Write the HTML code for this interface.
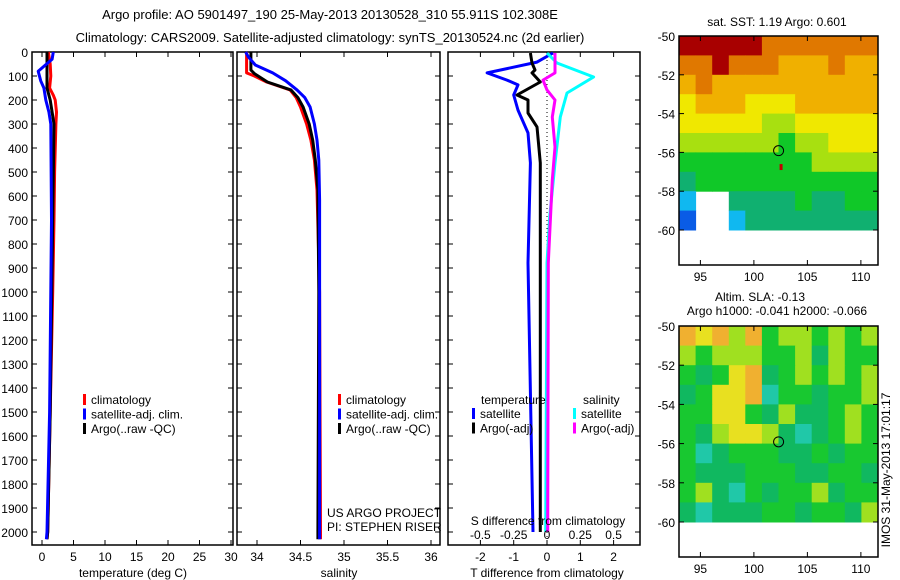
<!DOCTYPE html>
<html><head><meta charset="utf-8"><style>
body{margin:0;background:#fff;}
svg{display:block;font-family:"Liberation Sans",sans-serif;}
</style></head><body>
<svg id="c" width="900" height="580" xmlns="http://www.w3.org/2000/svg"></svg>
<script>
// ---- data ----
const depthTicks=[0,100,200,300,400,500,600,700,800,900,1000,1100,1200,1300,1400,1500,1600,1700,1800,1900,2000];
const tTicks=[0,5,10,15,20,25,30];
const sTicks=[34,34.5,35,35.5,36];
const dTTicks=[-2,-1,0,1,2];
const dSTicks=[-0.5,-0.25,0,0.25,0.5];
const dSTickLabels=["-0.5","-0.25","0","0.25","0.5"];
// panel 1 temperature
const climTD=[0,50,100,150,180,200,250,300,500,700,1000,1500,2000,2030];
const climT=[1.0,1.3,1.4,1.2,1.8,2.1,2.3,2.2,2.0,1.9,1.7,1.3,0.9,0.8];
const satTD=[0,30,80,120,150,200,250,300,700,1500,2000,2030];
const satT=[1.8,1.6,-0.6,-0.2,0.3,0.6,1.1,1.4,1.5,1.2,0.8,0.7];
const argoTD=[0,150,200,300,700,1500,2000,2030];
const argoT=[0.8,0.8,1.3,1.9,1.7,1.3,0.9,0.8];
// panel 2 salinity
const satSD=[0,20,54,87,120,158,190,229,300,367,450,617,2000,2030];
const satS=[33.87,33.9,33.98,34.18,34.33,34.46,34.55,34.61,34.66,34.69,34.71,34.72,34.72,34.72];
const climSD=[0,87,100,125,158,190,229,300,367,450,575,1000,2000,2030];
const climS=[33.88,33.88,33.97,34.11,34.38,34.45,34.5,34.57,34.62,34.66,34.69,34.72,34.73,34.73];
const argoSD=[0,75,90,125,158,190,229,300,367,450,575,1000,2000,2030];
const argoS=[33.93,33.93,33.97,34.12,34.39,34.47,34.53,34.6,34.64,34.67,34.7,34.71,34.7,34.7];
// panel 3 differences
const dTsatD=[4,42,87,117,137,179,242,337,462,879,2000];
const dTsat=[0.18,-0.3,-1.8,-1.2,-0.87,-1.0,-0.87,-0.57,-0.5,-0.57,-0.42];
const dTargoD=[4,46,75,87,125,179,200,254,312,462,879,2000];
const dTargo=[-0.5,-0.45,-0.36,-0.45,-0.2,-0.9,-0.57,-0.57,-0.3,-0.2,-0.2,-0.2];
const dSsatD=[4,46,104,171,271,462,687,879,2000];
const dSsat=[0,0.075,0.35,0.15,0.1,0.06,0.02,0,-0.01];
const dSargoD=[4,87,117,158,200,271,396,533,879,2000];
const dSargo=[0.06,0.06,-0.03,0,0.06,0.04,0.06,0.04,0.01,0.005];
// maps
const lonTicks=[95,100,105,110];
const latTicks=[-50,-52,-54,-56,-58,-60];
const sstGrid=["888887777777","778777666766","676666666666","566655566666","555554455555","444444344555","333333334444","233333333333","1xx222232233","0xx122222222"];
const slaGrid=["545352332323","323332231322","212451232323","124450221223","224421311232","213443101232","201222112122","211122211221","231021223122","101112212213"];
const floatLon=102.308, floatLat=-55.911;
// ---- helpers ----
const svg=document.getElementById('c');const NS='http://www.w3.org/2000/svg';
function el(t,a,p){const e=document.createElementNS(NS,t);for(const k in a)e.setAttribute(k,a[k]);(p||svg).appendChild(e);return e;}
function txt(x,y,s,a){const e=el('text',Object.assign({x:x,y:y,'font-size':12,fill:'#000'},a||{}));e.textContent=s;return e;}
const Y0=52,PX100=24;const yD=d=>Y0+d*PX100/100;const YB=545;
function panel(x0,x1,name){const g=el('g',{});
 el('rect',{x:x0,y:Y0,width:x1-x0,height:YB-Y0,fill:'none',stroke:'#000','stroke-width':1.5},g);
 depthTicks.forEach(d=>{el('line',{x1:x0,x2:x0+5,y1:yD(d),y2:yD(d),stroke:'#000'},g);el('line',{x1:x1-5,x2:x1,y1:yD(d),y2:yD(d),stroke:'#000'},g);});return g;}
function curve(g,D,V,fx,col,name,w,dash){const p=D.map((d,i)=>fx(V[i]).toFixed(1)+','+yD(d).toFixed(1)).join(' ');
 const l=el('polyline',{points:p,fill:'none',stroke:col,'stroke-width':w||3,'stroke-linejoin':'round'},g);
 if(dash)l.setAttribute('stroke-dasharray',dash);
 
 }
function legend(g,x,y,items){items.forEach((it,i)=>{el('rect',{x:x,y:y+i*14.5-10,width:3,height:11,fill:it[0]},g);txt(x+8,y+i*14.5,it[1],{});});}
// titles
const t1=txt(330,19,"Argo profile: AO 5901497_190 25-May-2013 20130528_310 55.911S 102.308E",{'text-anchor':'middle','font-size':13});

const t2=txt(330,42,"Climatology: CARS2009. Satellite-adjusted climatology: synTS_20130524.nc (2d earlier)",{'text-anchor':'middle','font-size':13});

depthTicks.forEach(d=>txt(28,yD(d)+5,String(d),{'text-anchor':'end'}));
// panel 1
const xT=v=>42+v*6.3;
const g1=panel(32,233,'temperature-panel');
tTicks.forEach(v=>{el('line',{x1:xT(v),x2:xT(v),y1:Y0,y2:Y0+5,stroke:'#000'},g1);el('line',{x1:xT(v),x2:xT(v),y1:YB-5,y2:YB,stroke:'#000'},g1);txt(xT(v),561,String(v),{'text-anchor':'middle'});});
txt(133,577,"temperature (deg C)",{'text-anchor':'middle'});
curve(g1,climTD,climT,xT,'#f00','climatology-temp-line');
curve(g1,argoTD,argoT,xT,'#000','argo-temp-line');
curve(g1,satTD,satT,xT,'#00f','satellite-temp-line');
legend(g1,83,404,[['#f00','climatology'],['#00f','satellite-adj. clim.'],['#000','Argo(..raw -QC)']]);
// panel 2
const xS=v=>257+(v-34)*87;
const g2=panel(237,440,'salinity-panel');
sTicks.forEach(v=>{el('line',{x1:xS(v),x2:xS(v),y1:Y0,y2:Y0+5,stroke:'#000'},g2);el('line',{x1:xS(v),x2:xS(v),y1:YB-5,y2:YB,stroke:'#000'},g2);txt(xS(v),561,String(v),{'text-anchor':'middle'});});
txt(339,577,"salinity",{'text-anchor':'middle'});
curve(g2,climSD,climS,xS,'#f00','climatology-salinity-line');
curve(g2,argoSD,argoS,xS,'#000','argo-salinity-line');
curve(g2,satSD,satS,xS,'#00f','satellite-salinity-line');
legend(g2,338,404,[['#f00','climatology'],['#00f','satellite-adj. clim.'],['#000','Argo(..raw -QC)']]);
txt(327,517,"US ARGO PROJECT",{});txt(327,531,"PI: STEPHEN RISER",{});
// panel 3
const xdT=v=>547+v*33.3, xdS=v=>547+v*133.2;
const g3=panel(448,640,'difference-panel');
el('line',{x1:547,x2:547,y1:Y0,y2:YB,stroke:'#000','stroke-dasharray':'1,3'},g3);
dTTicks.forEach(v=>{el('line',{x1:xdT(v),x2:xdT(v),y1:Y0,y2:Y0+5,stroke:'#000'},g3);el('line',{x1:xdT(v),x2:xdT(v),y1:YB-5,y2:YB,stroke:'#000'},g3);txt(xdT(v),561,String(v),{'text-anchor':'middle'});});
txt(547,577,"T difference from climatology",{'text-anchor':'middle'});
curve(g3,dTsatD,dTsat,xdT,'#00f','satellite-temp-diff-line');
curve(g3,dTargoD,dTargo,xdT,'#000','argo-temp-diff-line');
curve(g3,dSsatD,dSsat,xdS,'#0ff','satellite-salinity-diff-line');
curve(g3,dSargoD,dSargo,xdS,'#f0f','argo-salinity-diff-line');
dSTicks.forEach((v,i)=>txt(xdS(v),539,dSTickLabels[i],{'text-anchor':'middle'}));
txt(548,525,"S difference from climatology",{'text-anchor':'middle'});
txt(481,404,"temperature",{});txt(583,404,"salinity",{});
legend(g3,472,418,[['#00f','satellite'],['#000','Argo(-adj)']]);
legend(g3,573,418,[['#0ff','satellite'],['#f0f','Argo(-adj)']]);
// maps
const L0=93.0,L1=111.6,pxLon=(878-679)/(L1-L0);
function map(top,pxLat,grid,cols,name,title){
 const g=el('g',{});
 const xL=v=>679+(v-L0)*pxLon, yL=v=>top+(-50-v)*pxLat;
 const nc=grid[0].length,cw=(L1-L0)/nc;
 grid.forEach((row,r)=>{[...row].forEach((ch,c)=>{if(ch==='x')return;
  const cell=el('rect',{x:xL(L0+c*cw).toFixed(1),y:yL(-50-r).toFixed(1),width:(cw*pxLon+0.5).toFixed(1),height:(pxLat+0.5).toFixed(1),fill:cols[+ch]},g);
  
  });});
 const bot=top+ (yL(-60)-top) + (557-522);
 el('rect',{x:679,y:top,width:199,height:bot-top,fill:'none',stroke:'#000','stroke-width':1.5},g);
 latTicks.forEach(v=>{el('line',{x1:679,x2:684,y1:yL(v),y2:yL(v),stroke:'#000'},g);el('line',{x1:873,x2:878,y1:yL(v),y2:yL(v),stroke:'#000'},g);txt(675,yL(v)+5,String(v),{'text-anchor':'end'});});
 lonTicks.forEach(v=>{el('line',{x1:xL(v),x2:xL(v),y1:top,y2:top+5,stroke:'#000'},g);el('line',{x1:xL(v),x2:xL(v),y1:bot-5,y2:bot,stroke:'#000'},g);txt(xL(v),bot+16,String(v),{'text-anchor':'middle'});});
 el('circle',{cx:xL(floatLon),cy:yL(floatLat),r:5,fill:'none',stroke:'#000'},g);
 return {g,xL,yL};
}
const sstCols=['#0a5ce6','#10b8f0','#10b070','#10c828','#a8e010','#f0e800','#f0b000','#e07800','#a80000'];
const m1=map(36,19.4,sstGrid,sstCols,'sst-map');
el('rect',{x:m1.xL(102.4),y:m1.yL(-56.6),width:3,height:6,fill:'#c00000'},m1.g);
txt(777,26,"sat. SST: 1.19 Argo: 0.601",{'text-anchor':'middle'});
const slaCols=['#20c8a8','#10b860','#18c830','#a0e020','#e8e020','#f0b030'];
map(326,19.6,slaGrid,slaCols,'sla-map');
txt(760,301,"Altim. SLA: -0.13",{'text-anchor':'middle'});
txt(777,315,"Argo h1000: -0.041 h2000: -0.066",{'text-anchor':'middle'});
txt(0,0,"IMOS 31-May-2013 17:01:17",{'text-anchor':'middle',transform:'translate(890,470) rotate(-90)'});
</script>
</body></html>
